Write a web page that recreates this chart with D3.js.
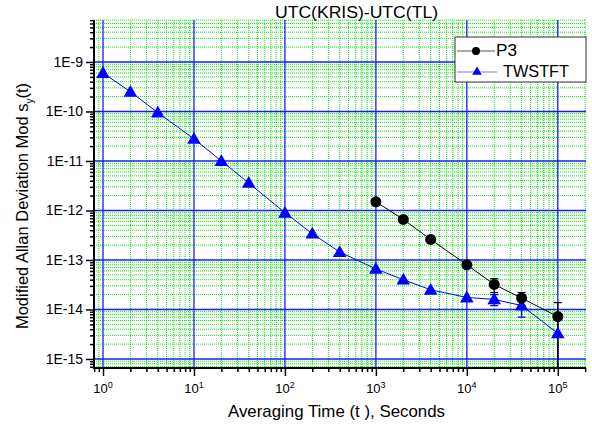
<!DOCTYPE html>
<html>
<head>
<meta charset="utf-8">
<script src="https://cdn.jsdelivr.net/npm/d3@7"></script>
<style>
  body { margin: 0; background: #fff; }
  text { font-family: Arial, "Liberation Sans", sans-serif; }
</style>
</head>
<body>
<script>
// Data
var tauTW = [1, 2, 4, 10, 20, 40, 100, 200, 400, 1000, 2000, 4000, 10000, 20000, 40000, 100000];
var adevTW = [6e-10, 2.5e-10, 9.5e-11, 2.8e-11, 1e-11, 3.6e-12, 9e-13, 3.4e-13, 1.45e-13,
              6.6e-14, 4e-14, 2.5e-14, 1.75e-14, 1.6e-14, 1.2e-14, 3.3e-15];
var errTW = [0, 0, 0, 0, 0, 0, 0, 0, 0, 0, 0, 0, 0, 4e-15, 5e-15, 3.6e-15];

var tauP3 = [1000, 2000, 4000, 10000, 20000, 40000, 100000];
var adevP3 = [1.5e-12, 6.6e-13, 2.6e-13, 8e-14, 3.2e-14, 1.7e-14, 7.2e-15];
var errP3 = [0, 0, 0, 0, 1e-14, 5e-15, 6.6e-15];

var xTicks = [1, 10, 100, 1000, 10000, 100000];
var xTickExp = ["0", "1", "2", "3", "4", "5"];
var yTicks = [1e-9, 1e-10, 1e-11, 1e-12, 1e-13, 1e-14, 1e-15];
var yTickLabels = ["1E-9", "1E-10", "1E-11", "1E-12", "1E-13", "1E-14", "1E-15"];

var W = 592, H = 425;
var pLeft = 94, pRight = 586, pTop = 20, pBottom = 368;

var svg = d3.select("body").append("svg")
  .attr("width", W)
  .attr("height", H);

var x = d3.scaleLog().domain([Math.pow(10, -0.099), Math.pow(10, 5.31)]).range([pLeft, pRight]);
var y = d3.scaleLog().domain([Math.pow(10, -15.182), Math.pow(10, -8.152)]).range([pBottom, pTop]);

// minor positions (2..9 inside each decade)
function minors(scale, lo, hi) {
  var out = [];
  var d = scale.domain();
  for (var e = lo; e <= hi; e++) {
    for (var m = 2; m <= 9; m++) {
      var v = m * Math.pow(10, e);
      if (v >= d[0] && v <= d[1]) out.push(v);
    }
  }
  return out;
}
var xMinor = minors(x, -1, 5);
var yMinor = minors(y, -16, -9);

// grid
var grid = svg.append("g");
grid.selectAll(".xm").data(xMinor).enter().append("line")
  .attr("x1", d => x(d)).attr("x2", d => x(d))
  .attr("y1", pTop).attr("y2", pBottom)
  .attr("stroke", "#00ee00").attr("stroke-width", 1).attr("stroke-dasharray", "1,1");
grid.selectAll(".ym").data(yMinor).enter().append("line")
  .attr("x1", pLeft).attr("x2", pRight)
  .attr("y1", d => y(d)).attr("y2", d => y(d))
  .attr("stroke", "#00ee00").attr("stroke-width", 1).attr("stroke-dasharray", "1,1");
grid.selectAll(".xM").data(xTicks).enter().append("line")
  .attr("x1", d => x(d)).attr("x2", d => x(d))
  .attr("y1", pTop).attr("y2", pBottom)
  .attr("stroke", "#1a1aff").attr("stroke-width", 1.3);
grid.selectAll(".yM").data(yTicks).enter().append("line")
  .attr("x1", pLeft).attr("x2", pRight)
  .attr("y1", d => y(d)).attr("y2", d => y(d))
  .attr("stroke", "#1a1aff").attr("stroke-width", 1.3);

// axes
var yAxis = svg.append("g").attr("transform", "translate(" + pLeft + ",0)");
yAxis.call(d3.axisLeft(y).tickValues(yTicks).tickSize(8).tickFormat((d, i) => yTickLabels[i]));
var yAxisMinor = svg.append("g").attr("transform", "translate(" + pLeft + ",0)");
yAxisMinor.call(d3.axisLeft(y).tickValues(yMinor).tickSize(4).tickFormat(""));

var xAxis = svg.append("g").attr("transform", "translate(0," + pBottom + ")");
xAxis.call(d3.axisBottom(x).tickValues(xTicks).tickSize(8).tickFormat(""));
var xAxisMinor = svg.append("g").attr("transform", "translate(0," + pBottom + ")");
xAxisMinor.call(d3.axisBottom(x).tickValues(xMinor).tickSize(4).tickFormat(""));

svg.selectAll(".domain").remove();
svg.selectAll(".tick line").attr("stroke", "#000").attr("stroke-width", 1.5);
yAxis.selectAll(".tick text").attr("font-size", 14).attr("fill", "#000").attr("x", -11)
  .attr("font-family", "Arial, 'Liberation Sans', sans-serif");

svg.append("line").attr("x1", pLeft).attr("x2", pLeft).attr("y1", pTop).attr("y2", pBottom + 1)
  .attr("stroke", "#000").attr("stroke-width", 2);
svg.append("line").attr("x1", pLeft - 1).attr("x2", pRight).attr("y1", pBottom).attr("y2", pBottom)
  .attr("stroke", "#000").attr("stroke-width", 2);

// x tick labels with superscripts
var xl = svg.append("g").selectAll("text").data(xTicks).enter().append("text")
  .attr("x", d => x(d))
  .attr("y", 393)
  .attr("text-anchor", "middle")
  .attr("font-size", 13);
xl.append("tspan").text("10");
xl.append("tspan").attr("dy", -5).attr("font-size", 9).text((d, i) => xTickExp[i]);

// titles
svg.append("text").attr("x", 356.5).attr("y", 18).attr("text-anchor", "middle")
  .attr("font-size", 16).attr("textLength", 163).attr("lengthAdjust", "spacingAndGlyphs")
  .text("UTC(KRIS)-UTC(TL)");
svg.append("text").attr("x", 336.5).attr("y", 417).attr("text-anchor", "middle")
  .attr("font-size", 17).attr("textLength", 217).attr("lengthAdjust", "spacingAndGlyphs")
  .text("Averaging Time (t ), Seconds");
var yt = svg.append("text").attr("transform", "translate(28,206) rotate(-90)")
  .attr("text-anchor", "middle").attr("font-size", 16.5);
yt.append("tspan").text("Modified Allan Deviation Mod s");
yt.append("tspan").attr("dy", 5).attr("font-size", 10).text("y");
yt.append("tspan").attr("dy", -5).text("(t)");

// error bars
function errBars(taus, vals, errs, color) {
  var g = svg.append("g");
  taus.forEach(function(t, i) {
    if (!errs[i]) return;
    var hi = vals[i] + errs[i], lo = vals[i] - errs[i];
    var yHi = y(hi);
    var yLo = lo > y.domain()[0] ? y(lo) : pBottom;
    var cx = x(t);
    g.append("line").attr("x1", cx).attr("x2", cx).attr("y1", yHi).attr("y2", yLo)
      .attr("stroke", color).attr("stroke-width", 1.3);
    g.append("line").attr("x1", cx - 4).attr("x2", cx + 4).attr("y1", yHi).attr("y2", yHi)
      .attr("stroke", color).attr("stroke-width", 1.3);
    if (lo > y.domain()[0])
      g.append("line").attr("x1", cx - 4).attr("x2", cx + 4).attr("y1", yLo).attr("y2", yLo)
        .attr("stroke", color).attr("stroke-width", 1.3);
  });
}

var line = d3.line().x(d => x(d[0])).y(d => y(d[1]));
var twData = tauTW.map((t, i) => [t, adevTW[i]]);
var p3Data = tauP3.map((t, i) => [t, adevP3[i]]);

errBars(tauTW, adevTW, errTW, "#0000ff");
errBars(tauP3, adevP3, errP3, "#000");

svg.append("path").attr("d", line(twData)).attr("fill", "none").attr("stroke", "#0000ff").attr("stroke-width", 1);
svg.append("path").attr("d", line(p3Data)).attr("fill", "none").attr("stroke", "#000").attr("stroke-width", 1);

var tri = d3.symbol().type(d3.symbolTriangle).size(80);
svg.append("g").selectAll("path").data(twData).enter().append("path")
  .attr("d", tri)
  .attr("transform", d => "translate(" + x(d[0]) + "," + (y(d[1]) + 1) + ")")
  .attr("fill", "#0000ff");
svg.append("g").selectAll("circle").data(p3Data).enter().append("circle")
  .attr("cx", d => x(d[0])).attr("cy", d => y(d[1])).attr("r", 5.5)
  .attr("fill", "#000");

// legend
var lg = svg.append("g");
lg.append("rect").attr("x", 455).attr("y", 37).attr("width", 131).attr("height", 45)
  .attr("fill", "#fff").attr("stroke", "#333").attr("stroke-width", 1);
lg.append("line").attr("x1", 457).attr("x2", 495).attr("y1", 51).attr("y2", 51)
  .attr("stroke", "#555").attr("stroke-width", 1);
lg.append("circle").attr("cx", 476).attr("cy", 51).attr("r", 4).attr("fill", "#000");
lg.append("text").attr("x", 496).attr("y", 56).attr("font-size", 16.5).attr("textLength", 21)
  .attr("lengthAdjust", "spacingAndGlyphs").text("P3");
lg.append("line").attr("x1", 457).attr("x2", 497).attr("y1", 72).attr("y2", 72)
  .attr("stroke", "#7f7fff").attr("stroke-width", 1);
lg.append("path").attr("d", d3.symbol().type(d3.symbolTriangle).size(40))
  .attr("transform", "translate(477,72)").attr("fill", "#0000ff");
lg.append("text").attr("x", 503).attr("y", 77).attr("font-size", 16.5).attr("textLength", 66)
  .attr("lengthAdjust", "spacingAndGlyphs").text("TWSTFT");
</script>
</body>
</html>
